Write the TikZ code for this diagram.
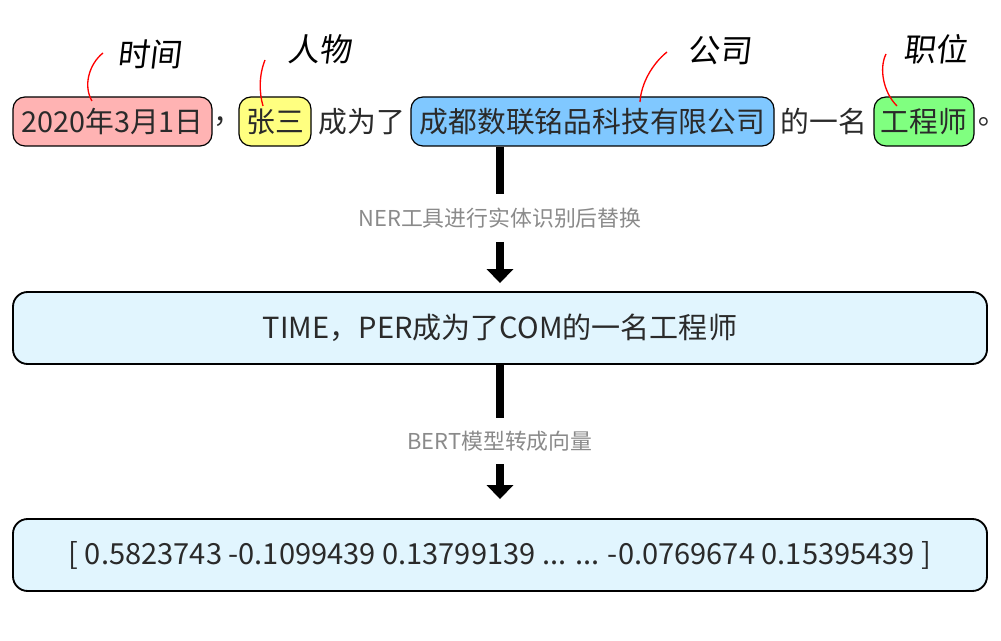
\documentclass[tikz,border=0pt]{standalone}
\usepackage{fontspec}
\setmainfont{Noto Sans CJK SC}
\newfontfamily\handfont[FakeSlant=0.12]{Noto Sans CJK SC}
\usetikzlibrary{arrows.meta}
\definecolor{cpink}{HTML}{FFB3B3}
\definecolor{cyellow}{HTML}{FFFF80}
\definecolor{cblue}{HTML}{80C8FF}
\definecolor{cgreen}{HTML}{80FF80}
\definecolor{clight}{HTML}{E1F5FE}
\definecolor{ctext}{HTML}{2A2A2A}
\definecolor{clabel}{HTML}{8A8A8A}
\tikzset{
  ent/.style={draw=black, line width=0.9pt, rounded corners=9pt, minimum height=36.75pt, inner sep=0pt, font=\fontsize{21.6}{25}\selectfont, text=ctext},
  plain/.style={inner sep=0pt, font=\fontsize{21.6}{25}\selectfont, text=ctext},
  bigbox/.style={draw=black, line width=1.4pt, rounded corners=11pt, fill=clight, minimum width=730.5pt, minimum height=54pt, inner sep=0pt, font=\fontsize{21.8}{25}\selectfont, text=ctext},
  steplabel/.style={inner sep=0pt, text=clabel, font=\fontsize{16.4}{19}\selectfont},
  hand/.style={inner sep=0pt, font=\handfont\fontsize{24}{28}\selectfont, text=black},
  thickline/.style={line width=6pt, draw=black},
  thickarrow/.style={line width=6pt, draw=black, -{Triangle[width=19.5pt,length=10.5pt]}},
  redcurve/.style={draw=red, line width=1pt}
}
\begin{document}
\begin{tikzpicture}[x=0.75pt,y=-0.75pt]
\useasboundingbox (0,0) rectangle (1001,641);
% top sentence
\node[ent, fill=cpink, minimum width=149.25pt] (b1) at (112.5,121.5) {2020年3月1日};
\node[plain] (comma) at (228,121.5) {，};
\node[ent, fill=cyellow, minimum width=54pt] (b2) at (275,121.5) {张三};
\node[plain] (t1) at (362,121.5) {成为了};
\node[ent, fill=cblue, minimum width=272.25pt] (b3) at (592.5,121.5) {成都数联铭品科技有限公司};
\node[plain] (t2) at (824,121.5) {的一名};
\node[ent, fill=cgreen, minimum width=75pt] (b4) at (924,121.5) {工程师};
\node[plain] (period) at (986,121.5) {｡};
% handwritten annotations
\node[hand] (h1) at (149,54) {时间};
\node[hand] (h2) at (319,49) {人物};
\node[hand] (h3) at (719,51) {公司};
\node[hand] (h4) at (935,49) {职位};
\coordinate (c1s) at (103,53);  \coordinate (c1e) at (92,101);
\coordinate (c2s) at (265,60);  \coordinate (c2e) at (263,106);
\coordinate (c3s) at (667,52);  \coordinate (c3e) at (640,102);
\coordinate (c4s) at (886,54);  \coordinate (c4e) at (897,106);
\draw[redcurve] (c1s) .. controls (89,64) and (83,86) .. (c1e);
\draw[redcurve] (c2s) .. controls (259,75) and (259,92) .. (c2e);
\draw[redcurve] (c3s) .. controls (652,64) and (641,84) .. (c3e);
\draw[redcurve] (c4s) .. controls (879,68) and (883,92) .. (c4e);
% middle and bottom boxes
\node[bigbox] (b5) at (500,328) {TIME，PER成为了COM的一名工程师};
\node[bigbox] (b6) at (500,555) {[ 0.5823743 -0.1099439 0.13799139 ... ... -0.0769674 0.15395439 ]};
% step labels
\node[steplabel, minimum height=35.25pt] (l1) at (500,218) {NER工具进行实体识别后替换};
\node[steplabel, minimum height=34.5pt] (l2) at (500,441) {BERT模型转成向量};
% connectors
\draw[thickline] (b3.south -| l1.north) -- (l1.north);
\draw[thickarrow, shorten >=6pt] (l1.south) -- (b5.north);
\draw[thickline] (b5.south) -- (l2.north);
\draw[thickarrow, shorten >=14.25pt] (l2.south) -- (b6.north);
\end{tikzpicture}
\end{document}
